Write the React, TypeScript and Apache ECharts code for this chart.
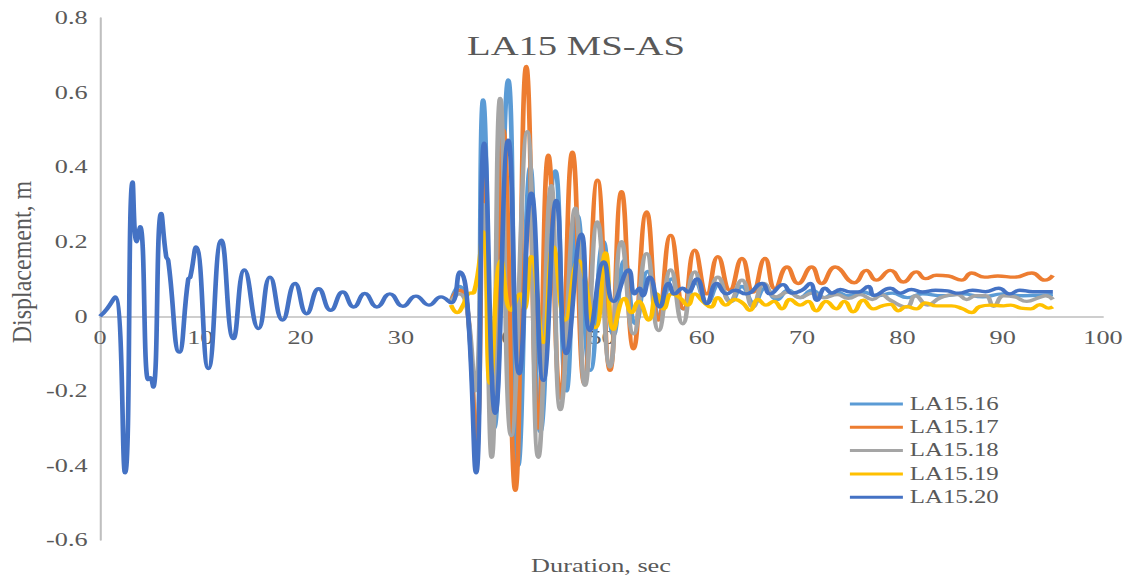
import React, { useEffect, useRef } from "react";
import * as echarts from "echarts";

// Original picture is horizontally stretched: render narrower, then scale X.
const PAGE_W = 1125;
const INNER_W = 815;
const H = 575;
const SX = PAGE_W / INNER_W;

const seriesNames = ["LA15.16", "LA15.17", "LA15.18", "LA15.19", "LA15.20"];
const colors = ["#5B9BD5", "#ED7D31", "#A5A5A5", "#FFC000", "#4472C4"];
const xTicks = { min: 0, max: 100, interval: 10 };
const yTicks = { min: -0.6, max: 0.8, interval: 0.2 };

const la1516: [number, number][] = [
  [35, 0.04], [35.8, 0.08], [36.6, 0.03], [37.5, -0.38], [38.2, 0.58], [39.3, -0.3],
  [40.7, 0.634], [41.7, -0.4], [42.9, 0.4], [43.9, -0.31], [45.4, 0.39], [46.5, -0.2],
  [47.6, 0.27], [48.9, -0.145], [50.2, 0.2], [51.2, -0.05], [52.3, 0.15], [53.4, -0.02],
  [54.6, 0.12], [55.8, 0.0], [57.0, 0.1], [58.2, 0.02], [59.4, 0.09], [60.5, 0.035],
  [61.7, 0.085], [62.9, 0.04], [64.0, 0.08], [65.2, 0.035], [66.3, 0.075], [67.5, 0.045],
  [68.6, 0.07], [69.8, 0.05], [71.0, 0.07], [72.2, 0.05], [73.4, 0.065], [74.6, 0.055],
  [76.0, 0.065], [77.5, 0.055], [79.0, 0.062], [80.5, 0.05], [82.0, 0.06], [84.0, 0.055],
  [86.0, 0.06], [88.0, 0.052], [90.0, 0.06], [92.0, 0.055], [95.0, 0.058],
];

const la1517: [number, number][] = [
  [35, 0.04], [35.8, 0.07], [36.6, 0.03], [37.5, -0.34], [38.3, 0.38], [39.2, -0.26],
  [40.2, 0.5], [41.4, -0.467], [42.5, 0.67], [43.7, -0.3], [44.7, 0.432], [45.9, -0.22],
  [47.1, 0.44], [48.3, -0.18], [49.6, 0.365], [50.85, -0.145], [52.0, 0.334], [53.2, -0.087],
  [54.5, 0.28], [55.7, -0.01], [56.9, 0.217], [58.2, 0.02], [59.3, 0.177], [60.5, 0.06],
  [61.6, 0.16], [62.8, 0.07], [64.0, 0.155], [65.1, 0.065], [66.3, 0.155], [67.3, 0.074],
  [68.5, 0.132], [69.6, 0.088], [70.95, 0.132], [71.95, 0.088], [73.3, 0.132], [75.2, 0.09],
  [76.4, 0.123], [77.4, 0.097], [78.8, 0.123], [80.1, 0.092], [81.4, 0.119], [82.3, 0.101],
  [83.4, 0.11], [84.6, 0.108], [85.9, 0.097], [86.9, 0.116], [88.2, 0.105], [89.5, 0.108],
  [91.2, 0.105], [92.9, 0.116], [94.2, 0.097], [95.0, 0.11],
];

const la1518: [number, number][] = [
  [35, 0.04], [35.8, 0.06], [36.6, 0.02], [37.4, -0.2], [38.2, 0.3], [39.05, -0.378],
  [39.9, 0.584], [41.0, -0.32], [42.6, 0.495], [43.7, -0.378], [45.0, 0.35], [45.9, -0.25],
  [47.4, 0.29], [48.35, -0.185], [49.6, 0.253], [50.85, -0.136], [52.0, 0.2], [53.2, -0.047],
  [54.5, 0.168], [55.7, -0.038], [56.9, 0.124], [58.1, -0.02], [59.3, 0.119], [60.5, 0.038],
  [61.6, 0.105], [62.8, 0.04], [64.0, 0.097], [65.1, 0.025], [66.2, 0.088], [67.4, 0.052],
  [68.6, 0.065], [69.8, 0.05], [71.0, 0.062], [72.2, 0.05], [73.5, 0.058], [74.6, 0.048],
  [75.8, 0.058], [77.0, 0.045], [77.9, 0.058], [78.8, 0.043], [80.4, 0.025], [81.3, 0.055],
  [82.5, 0.03], [83.8, 0.05], [85.5, 0.058], [86.4, 0.045], [87.3, 0.055], [88.3, 0.055],
  [89.1, 0.027], [90.1, 0.055], [91.2, 0.052], [92.4, 0.04], [93.6, 0.05], [94.3, 0.055],
  [95.0, 0.045],
];

const la1519: [number, number][] = [
  [35, 0.03], [35.6, 0.01], [36.2, 0.03], [36.7, 0.06], [37.3, 0.065], [38.2, 0.226],
  [38.9, -0.18], [40.0, 0.15], [41.0, 0.016], [41.9, 0.06], [42.3, 0.02], [43.0, 0.16],
  [44.2, -0.07], [45.2, 0.186], [46.4, -0.01], [47.7, 0.15], [49.4, -0.03], [50.4, 0.17],
  [51.2, -0.035], [52.3, 0.048], [53.0, 0.01], [53.7, 0.04], [54.7, -0.01], [55.5, 0.06],
  [56.2, 0.02], [57.0, 0.06], [57.8, 0.05], [58.6, 0.03], [59.3, 0.06], [60.1, 0.04],
  [60.9, 0.025], [61.6, 0.05], [62.4, 0.03], [63.3, 0.045], [64.1, 0.035], [64.8, 0.016],
  [65.6, 0.045], [66.4, 0.03], [67.2, 0.04], [68.0, 0.02], [68.8, 0.045], [69.8, 0.03],
  [70.6, 0.04], [71.4, 0.015], [72.4, 0.04], [73.4, 0.02], [74.2, 0.04], [75.1, 0.012],
  [76.1, 0.043], [77.1, 0.02], [78.0, 0.028], [78.8, 0.032], [79.6, 0.015], [80.4, 0.026],
  [81.4, 0.02], [82.3, 0.036], [83.4, 0.028], [84.9, 0.028], [86.0, 0.02], [86.9, 0.01],
  [87.7, 0.026], [88.8, 0.03], [90.1, 0.028], [90.8, 0.03], [91.8, 0.022], [92.8, 0.02],
  [93.7, 0.031], [94.6, 0.022], [95.0, 0.025],
];

const la1520: [number, number][] = [
  [0, 0], [0.7, 0.02], [1.5, 0.052], [2.5, -0.42], [3.25, 0.36], [3.65, 0.2], [4.0, 0.24],
  [4.8, -0.17], [5.0, -0.165], [5.3, -0.19], [6.1, 0.276], [6.6, 0.16], [6.8, 0.15],
  [7.9, -0.096], [8.8, 0.1], [9.0, 0.105], [9.57, 0.186], [10.8, -0.14], [12.1, 0.204],
  [13.3, -0.06], [14.4, 0.124], [15.8, -0.033], [16.95, 0.105], [18.2, -0.01], [19.45, 0.088],
  [20.6, 0.007], [21.8, 0.074], [23.0, 0.016], [24.2, 0.065], [25.3, 0.025], [26.4, 0.061],
  [27.6, 0.025], [28.9, 0.06], [30.2, 0.027], [31.5, 0.054], [32.8, 0.03], [34.0, 0.052],
  [35.0, 0.036], [35.9, 0.119], [36.6, 0.043], [37.5, -0.42], [38.3, 0.464], [39.4, -0.26],
  [40.7, 0.472], [41.8, -0.154], [43.0, 0.33], [44.2, -0.172], [45.5, 0.311], [46.5, -0.1],
  [48.0, 0.22], [48.85, -0.038], [50.25, 0.146], [51.2, 0.04], [52.7, 0.124], [53.3, 0.06],
  [53.8, 0.075], [54.1, 0.055], [54.8, 0.105], [55.8, 0.025], [56.7, 0.088], [57.3, 0.06],
  [58.1, 0.075], [58.6, 0.065], [59.5, 0.1], [60.5, 0.034], [61.5, 0.088], [62.5, 0.06],
  [63.3, 0.07], [64.4, 0.06], [66.0, 0.088], [66.8, 0.06], [68.1, 0.085], [69.0, 0.062],
  [70.0, 0.07], [70.8, 0.088], [71.5, 0.043], [72.3, 0.075], [73.0, 0.062], [73.8, 0.072],
  [74.8, 0.065], [75.6, 0.065], [76.6, 0.08], [77.2, 0.056], [78.8, 0.075], [79.8, 0.062],
  [80.9, 0.072], [82.0, 0.065], [83.3, 0.07], [84.5, 0.068], [85.6, 0.062], [87.0, 0.07],
  [88.3, 0.066], [89.6, 0.075], [90.7, 0.06], [91.7, 0.07], [93.0, 0.066], [95.0, 0.066],
];

const seriesData = [la1516, la1517, la1518, la1519, la1520];

const FONT = "'Liberation Serif', 'Times New Roman', serif";
const TEXT_COLOR = "#595959";
const AXIS_COLOR = "#BFBFBF";

const GRID_TOP = 18;
const GRID_BOTTOM_Y = 540;
// page-pixel helper → inner coordinates
const ix = (px: number) => px / SX;
// vertical pixel of value 0 (the x axis crosses there)
const zeroY =
  GRID_TOP + ((yTicks.max - 0) / (yTicks.max - yTicks.min)) * (GRID_BOTTOM_Y - GRID_TOP);

export default function App() {
  const ref = useRef<HTMLDivElement>(null);

  useEffect(() => {
    if (!ref.current) return;
    const chart = echarts.init(ref.current, null, { renderer: "svg" });
    chart.setOption({
      animation: false,
      backgroundColor: "#ffffff",
      grid: {
        left: ix(100),
        right: INNER_W - ix(1103),
        top: GRID_TOP,
        bottom: H - GRID_BOTTOM_Y,
        containLabel: false,
        outerBoundsMode: "none",
      },
      xAxis: {
        type: "value",
        position: "bottom",
        offset: -(GRID_BOTTOM_Y - zeroY),
        min: xTicks.min,
        max: xTicks.max,
        interval: xTicks.interval,
        axisLine: { onZero: false, lineStyle: { color: AXIS_COLOR, width: 1.5 } },
        axisTick: { show: false },
        splitLine: { show: false },
        axisLabel: {
          margin: 12,
          fontFamily: FONT,
          fontSize: 19,
          color: TEXT_COLOR,
        },
      },
      yAxis: {
        type: "value",
        min: yTicks.min,
        max: yTicks.max,
        interval: yTicks.interval,
        axisLine: { show: true, onZero: false, lineStyle: { color: AXIS_COLOR, width: 1.5 } },
        axisTick: { show: false },
        splitLine: { show: false },
        axisLabel: {
          margin: 9,
          fontFamily: FONT,
          fontSize: 19,
          color: TEXT_COLOR,
          formatter: (v: number) => String(Number(v.toFixed(1))),
        },
      },
      legend: {
        orient: "vertical",
        left: ix(843),
        top: 389,
        icon: "rect",
        itemWidth: ix(896) - ix(843),
        itemHeight: 3,
        itemGap: 3.3,
        data: seriesNames,
        textStyle: {
          fontFamily: FONT,
          fontSize: 18,
          lineHeight: 20,
          color: TEXT_COLOR,
        },
      },
      graphic: [
        {
          type: "text",
          x: ix(576),
          y: 45,
          style: {
            text: "LA15 MS-AS",
            fontFamily: FONT,
            fontSize: 28,
            fill: TEXT_COLOR,
            align: "center",
            verticalAlign: "middle",
            textAlign: "center",
            textVerticalAlign: "middle",
          },
        },
        {
          type: "text",
          x: ix(601),
          y: 566,
          style: {
            text: "Duration, sec",
            fontFamily: FONT,
            fontSize: 19,
            fill: TEXT_COLOR,
            align: "center",
            verticalAlign: "middle",
            textAlign: "center",
            textVerticalAlign: "middle",
          },
        },
        {
          type: "text",
          x: ix(22),
          y: 262,
          rotation: Math.PI / 2,
          scaleY: 0.8,
          style: {
            text: "Displacement, m",
            fontFamily: FONT,
            fontSize: 24,
            fill: TEXT_COLOR,
            align: "center",
            verticalAlign: "middle",
            textAlign: "center",
            textVerticalAlign: "middle",
          },
        },
      ],
      series: seriesNames.map((name, i) => ({
        name,
        type: "line",
        data: seriesData[i],
        smooth: true,
        symbol: "none",
        showSymbol: false,
        color: colors[i],
        lineStyle: { color: colors[i], width: 3.4 },
        z: 2 + i,
      })),
    });
    return () => chart.dispose();
  }, []);

  return (
    <div
      style={{
        position: "fixed",
        left: 0,
        top: 0,
        width: PAGE_W,
        height: H,
        overflow: "hidden",
        background: "#fff",
      }}
    >
      <div
        ref={ref}
        style={{
          width: INNER_W,
          height: H,
          transform: `scaleX(${SX})`,
          transformOrigin: "0 0",
        }}
      />
    </div>
  );
}
